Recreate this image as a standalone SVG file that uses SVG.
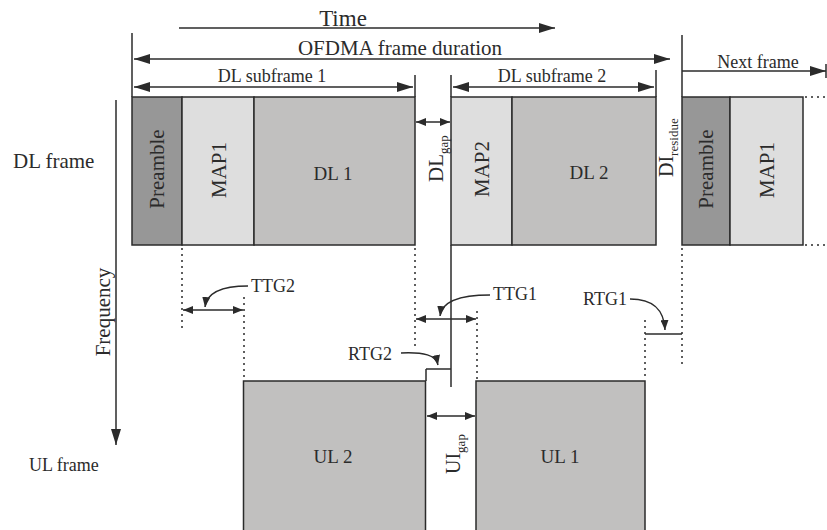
<svg xmlns="http://www.w3.org/2000/svg" width="827" height="530" viewBox="0 0 827 530">
<style>
text{font-family:"Liberation Serif","Times New Roman",serif;fill:#2b2b2b}
.ln{stroke:#2b2b2b;stroke-width:1.5;fill:none}
.dot{stroke:#2b2b2b;stroke-width:1.5;fill:none;stroke-dasharray:2 4}
.box{stroke:#2b2b2b;stroke-width:1.5}
.pre{fill:#979797}
.map{fill:#dedede}
.dl{fill:#c1c0bf}
.big{marker-start:url(#ab);marker-end:url(#ab)}
.bigE{marker-end:url(#ab)}
.sm{marker-start:url(#as);marker-end:url(#as)}
.smE{marker-end:url(#as)}
</style>
<defs>
<marker id="ab" markerUnits="userSpaceOnUse" markerWidth="16" markerHeight="10" viewBox="0 0 16 10" refX="16" refY="5" orient="auto-start-reverse"><path d="M0,0 L16,5 L0,10 Z" fill="#2b2b2b"/></marker>
<marker id="as" markerUnits="userSpaceOnUse" markerWidth="10" markerHeight="8" viewBox="0 0 10 8" refX="10" refY="4" orient="auto-start-reverse"><path d="M0,0 L10,4 L0,8 Z" fill="#2b2b2b"/></marker>
</defs>

<g id="labels-top">
<text x="343" y="26" font-size="23" text-anchor="middle">Time</text>
<text x="400" y="55" font-size="21" text-anchor="middle">OFDMA frame duration</text>
<text x="272" y="82" font-size="18" text-anchor="middle">DL subframe 1</text>
<text x="552" y="82" font-size="18" text-anchor="middle">DL subframe 2</text>
<text x="758" y="68" font-size="18" text-anchor="middle">Next frame</text>
<text x="13" y="168" font-size="21">DL frame</text>
<text x="29" y="471" font-size="18">UL frame</text>
<text transform="translate(110,312) rotate(-90)" font-size="21" text-anchor="middle">Frequency</text>
</g>

<g id="preamble1"><rect class="box pre" x="132" y="97" width="50" height="148"/><text transform="translate(164,169) rotate(-90)" font-size="21" text-anchor="middle">Preamble</text></g>
<g id="map1"><rect class="box map" x="182" y="97" width="72" height="148"/><text transform="translate(226,170) rotate(-90)" font-size="21" text-anchor="middle">MAP1</text></g>
<g id="dl1"><rect class="box dl" x="254" y="97" width="161" height="148"/><text x="333" y="180" font-size="19" text-anchor="middle">DL 1</text></g>
<g id="map2"><rect class="box map" x="451" y="97" width="61" height="148"/><text transform="translate(489,169) rotate(-90)" font-size="21" text-anchor="middle">MAP2</text></g>
<g id="dl2"><rect class="box dl" x="512" y="97" width="144" height="148"/><text x="589" y="179" font-size="19" text-anchor="middle">DL 2</text></g>
<g id="preamble2"><rect class="box pre" x="682" y="97" width="48" height="148"/><text transform="translate(713,169) rotate(-90)" font-size="21" text-anchor="middle">Preamble</text></g>
<g id="map1b"><rect class="box map" x="730" y="97" width="73" height="148"/><text transform="translate(774,170) rotate(-90)" font-size="21" text-anchor="middle">MAP1</text></g>
<g id="ul2"><rect class="box dl" x="243.5" y="381" width="182" height="170"/><text x="333" y="463" font-size="19" text-anchor="middle">UL 2</text></g>
<g id="ul1"><rect class="box dl" x="476" y="381" width="169" height="170"/><text x="560" y="463" font-size="19" text-anchor="middle">UL 1</text></g>

<g id="gap-labels">
<text transform="translate(443,182) rotate(-90)" font-size="21">DL<tspan font-size="13" dy="5">gap</tspan></text>
<text transform="translate(673,177) rotate(-90)" font-size="20">DI<tspan font-size="13" dy="5">residue</tspan></text>
<text transform="translate(460,474) rotate(-90)" font-size="20">UI<tspan font-size="13" dy="5">gap</tspan></text>
<text x="251" y="292" font-size="18">TTG2</text>
<text x="493" y="300" font-size="18">TTG1</text>
<text x="348" y="360" font-size="18">RTG2</text>
<text x="583" y="305" font-size="18">RTG1</text>
</g>

<g id="connectors">
<line class="ln bigE" x1="179" y1="28" x2="555" y2="28"/>
<line class="ln" x1="132" y1="33" x2="132" y2="97"/>
<line class="ln big" x1="134" y1="59" x2="670" y2="59"/>
<line class="ln big" x1="134" y1="87" x2="413" y2="87"/>
<line class="ln" x1="415" y1="75" x2="415" y2="97"/>
<line class="ln" x1="451" y1="75" x2="451" y2="97"/>
<line class="ln big" x1="453" y1="87" x2="654" y2="87"/>
<line class="ln" x1="656" y1="70" x2="656" y2="97"/>
<line class="ln" x1="682" y1="35" x2="682" y2="97"/>
<line class="ln bigE" x1="682" y1="71" x2="826" y2="71"/>
<line class="ln" x1="826" y1="64" x2="826" y2="78"/>
<line class="dot" x1="805" y1="97" x2="827" y2="97"/>
<line class="dot" x1="805" y1="245" x2="827" y2="245"/>
<line class="ln bigE" x1="116" y1="100" x2="116" y2="445"/>

<line class="sm ln" x1="416" y1="122" x2="450" y2="122"/>
<line class="ln" x1="451" y1="245" x2="451" y2="387"/>
<line class="dot" x1="182" y1="248" x2="182" y2="332"/>
<line class="dot" x1="415" y1="248" x2="415" y2="350"/>
<line class="dot" x1="682" y1="248" x2="682" y2="364"/>
<line class="dot" x1="244" y1="297" x2="244" y2="380"/>
<line class="dot" x1="477" y1="311" x2="477" y2="380"/>
<line class="dot" x1="645" y1="320" x2="645" y2="380"/>
<line class="sm ln" x1="183" y1="310" x2="243" y2="310"/>
<line class="sm ln" x1="416" y1="319" x2="476" y2="319"/>
<line class="sm ln" x1="427" y1="416" x2="475" y2="416"/>
<line class="ln" x1="645" y1="334" x2="682" y2="334"/>
<line class="ln" x1="426" y1="369" x2="451" y2="369"/>
<line class="ln" x1="426" y1="369" x2="426" y2="381"/>

<path class="ln smE" d="M248 286 C224 286 207 291 205 307"/>
<path class="ln smE" d="M490 295 C462 295 442 300 440 316"/>
<path class="ln smE" d="M401 353 C424 352 436 355 438 365"/>
<path class="ln smE" d="M630 299 C654 299 664 310 665 330"/>
</g>
</svg>
